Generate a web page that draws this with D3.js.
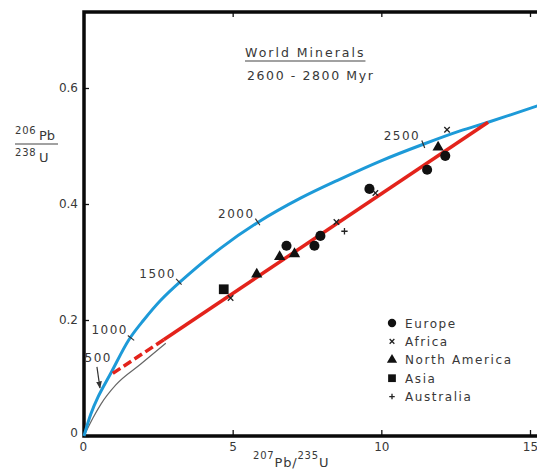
<!DOCTYPE html>
<html>
<head>
<meta charset="utf-8">
<script src="https://cdn.jsdelivr.net/npm/d3@7"></script>
<style>
	body { margin: 0; background: #fff; }
	text { font-family: "DejaVu Sans", sans-serif; fill: #383838; }
</style>
</head>
<body>
<div id="chart"></div>
<script>
// Concordia curve
const concordiaX = [0, 0.23, 0.47, 0.91, 1.51, 2.01, 2.58, 3.26, 4.60, 5.87, 7.28, 8.62, 9.97, 11.41, 12.65, 13.59, 15.3];
const concordiaY = [0, 0.038, 0.067, 0.109, 0.166, 0.200, 0.234, 0.267, 0.324, 0.369, 0.410, 0.443, 0.474, 0.503, 0.526, 0.541, 0.570];

// Age marks on the concordia (Myr)
const ageLabels = ["500", "1000", "1500", "2000", "2500"];
const ageX = [0.57, 1.58, 3.19, 5.84, 11.41];
const ageY = [0.076, 0.169, 0.266, 0.369, 0.503];

// Thin grey curve below the concordia
const grayX = [0, 0.30, 0.57, 1.07, 1.91, 2.75];
const grayY = [0, 0.031, 0.055, 0.088, 0.124, 0.160];

// Discordia (solid part and dashed extension)
const discordiaX = [13.59, 2.68];
const discordiaY = [0.541, 0.166];
const dashedX = [2.68, 0.97];
const dashedY = [0.166, 0.108];

// Mineral data by region
const regions = ["Europe", "Africa", "North America", "Asia", "Australia"];
const europeX = [6.81, 7.75, 7.95, 9.60, 11.54, 12.15];
const europeY = [0.328, 0.328, 0.345, 0.426, 0.459, 0.483];
const africaX = [4.93, 8.49, 9.80, 12.21];
const africaY = [0.238, 0.369, 0.419, 0.528];
const northAmericaX = [5.81, 6.58, 7.08, 11.91];
const northAmericaY = [0.279, 0.309, 0.314, 0.498];
const asiaX = [4.70];
const asiaY = [0.253];
const australiaX = [8.76];
const australiaY = [0.353];

const xTicks = [0, 5, 10, 15];
const yTicks = [0, 0.2, 0.4, 0.6];

const width = 537, height = 472;
const frameTop = 12;

const svg = d3.select("#chart").append("svg")
	.attr("width", width)
	.attr("height", height);

const x = d3.scaleLinear().domain([0, 15]).range([84, 530]);
const y = d3.scaleLinear().domain([0, 0.6]).range([436, 88]);

// custom stroke symbols
const symTimes = { draw(ctx, size) { const r = Math.sqrt(size) / 2; ctx.moveTo(-r, -r); ctx.lineTo(r, r); ctx.moveTo(r, -r); ctx.lineTo(-r, r); } };
const symPlus = { draw(ctx, size) { const r = Math.sqrt(size) / 2; ctx.moveTo(-r, 0); ctx.lineTo(r, 0); ctx.moveTo(0, -r); ctx.lineTo(0, r); } };

const symbolOf = {
	"Europe": { type: d3.symbolCircle, size: 80, filled: true, legendSize: 55 },
	"Africa": { type: symTimes, size: 30, filled: false, legendSize: 22 },
	"North America": { type: d3.symbolTriangle, size: 55, filled: true, legendSize: 45 },
	"Asia": { type: d3.symbolSquare, size: 95, filled: true, legendSize: 60 },
	"Australia": { type: symPlus, size: 40, filled: false, legendSize: 30 }
};

const seriesX = [europeX, africaX, northAmericaX, asiaX, australiaX];
const seriesY = [europeY, africaY, northAmericaY, asiaY, australiaY];

// ---- axes ----
const gx = svg.append("g").attr("transform", `translate(0,${y(0)})`)
	.call(d3.axisBottom(x).tickValues(xTicks).tickSize(-6).tickSizeOuter(0).tickPadding(6).tickFormat(d3.format("d")));
const gtop = svg.append("g").attr("transform", `translate(0,${frameTop})`)
	.call(d3.axisTop(x).tickValues(xTicks.slice(1)).tickSize(-5).tickSizeOuter(0).tickFormat(""));
const gy = svg.append("g").attr("transform", `translate(${x(0)},0)`)
	.call(d3.axisLeft(y).tickValues(yTicks).tickSize(-5).tickSizeOuter(0).tickPadding(6)
		.tickFormat(d => d === 0 ? "0" : d3.format(".1f")(d)));

[gx, gtop, gy].forEach(g => {
	g.select(".domain").remove();
	g.selectAll(".tick line").attr("stroke", "#111").attr("stroke-width", 1.3);
	g.selectAll(".tick text").attr("font-size", 12).attr("fill", "#444")
		.style("font-family", "DejaVu Sans, sans-serif");
});
gy.selectAll(".tick text").filter(d => d === 0).attr("dy", "0.05em");
gx.selectAll(".tick text").filter(d => d === 0).attr("dx", "-0.1em");

// frame (left, top, bottom)
svg.append("path")
	.attr("d", `M${width},${frameTop}H${x(0)}V${y(0)}H${width}`)
	.attr("fill", "none")
	.attr("stroke", "#0a0a0a")
	.attr("stroke-width", 3.5);

// ---- curves ----
const lineGen = d3.line().x(d => x(d[0])).y(d => y(d[1]));

svg.append("path")
	.datum(d3.zip(grayX, grayY))
	.attr("d", lineGen.curve(d3.curveMonotoneX))
	.attr("fill", "none")
	.attr("stroke", "#666")
	.attr("stroke-width", 1.2);

svg.append("path")
	.datum(d3.zip(concordiaX, concordiaY))
	.attr("d", lineGen.curve(d3.curveCatmullRom))
	.attr("fill", "none")
	.attr("stroke", "#1d9ad8")
	.attr("stroke-width", 3);

svg.append("path")
	.datum(d3.zip(dashedX, dashedY))
	.attr("d", lineGen.curve(d3.curveLinear))
	.attr("fill", "none")
	.attr("stroke", "#e3231b")
	.attr("stroke-width", 3.5)
	.attr("stroke-dasharray", "9,4");

svg.append("path")
	.datum(d3.zip(discordiaX, discordiaY))
	.attr("d", lineGen.curve(d3.curveLinear))
	.attr("fill", "none")
	.attr("stroke", "#e3231b")
	.attr("stroke-width", 3.5);

// ---- age ticks and labels ----
const cPix = d3.zip(concordiaX, concordiaY).map(d => [x(d[0]), y(d[1])]);
function tangentAt(px) {
	let i = cPix.findIndex(p => p[0] >= px);
	if (i < 1) i = 1;
	const dx = cPix[i][0] - cPix[i - 1][0], dy = cPix[i][1] - cPix[i - 1][1];
	const len = Math.hypot(dx, dy);
	return [dx / len, dy / len];
}

svg.append("defs").append("marker")
	.attr("id", "arrow")
	.attr("viewBox", "0 0 10 10")
	.attr("refX", 9).attr("refY", 5)
	.attr("markerWidth", 6).attr("markerHeight", 6)
	.attr("orient", "auto")
	.append("path").attr("d", "M0,1L10,5L0,9z").attr("fill", "#333");

const ages = svg.append("g");
ageLabels.forEach((lab, i) => {
	const px = x(ageX[i]), py = y(ageY[i]);
	const t = tangentAt(px), n = [-t[1], t[0]];
	if (i > 0) {
		ages.append("line")
			.attr("x1", px - n[0] * 4).attr("y1", py - n[1] * 4)
			.attr("x2", px + n[0] * 4).attr("y2", py + n[1] * 4)
			.attr("stroke", "#333").attr("stroke-width", 1.2);
		ages.append("text")
			.attr("x", px - 3).attr("y", py - 4)
			.attr("text-anchor", "end")
			.attr("font-size", 12)
			.attr("letter-spacing", 1.5)
			.text(lab);
	} else {
		ages.append("text")
			.attr("x", px + 11).attr("y", py - 30)
			.attr("text-anchor", "end")
			.attr("font-size", 12)
			.attr("letter-spacing", 1.5)
			.text(lab);
		ages.append("line")
			.attr("x1", px - 4).attr("y1", py - 25)
			.attr("x2", px - 1).attr("y2", py - 4)
			.attr("stroke", "#333").attr("stroke-width", 1.2)
			.attr("marker-end", "url(#arrow)");
	}
});

// ---- data points ----
function symbolPath(name, size) {
	return d3.symbol().type(symbolOf[name].type).size(size)();
}
function styleSym(sel, name) {
	if (symbolOf[name].filled) sel.attr("fill", "#111").attr("stroke", "none");
	else sel.attr("fill", "none").attr("stroke", "#222").attr("stroke-width", 1.3);
}

regions.forEach((name, k) => {
	const pts = d3.zip(seriesX[k], seriesY[k]);
	svg.append("g").selectAll("path")
		.data(pts)
		.enter()
		.append("path")
		.attr("d", symbolPath(name, symbolOf[name].size))
		.attr("transform", d => `translate(${x(d[0])},${y(d[1])})`)
		.call(styleSym, name);
});

// ---- legend ----
const legend = svg.append("g").attr("transform", "translate(392,323)");
const legendEntry = legend.selectAll("g")
	.data(regions)
	.enter()
	.append("g")
	.attr("transform", (d, i) => `translate(0,${i * 18.4})`);
legendEntry.append("path")
	.attr("d", d => symbolPath(d, symbolOf[d].legendSize))
	.each(function (d) { d3.select(this).call(styleSym, d); });
legendEntry.append("text")
	.attr("x", 13)
	.attr("y", 4.5)
	.attr("font-size", 12)
	.attr("letter-spacing", 1.6)
	.text(d => d);

// ---- title ----
const title = svg.append("text")
	.attr("x", 245).attr("y", 57)
	.attr("font-size", 12.5)
	.attr("letter-spacing", 2)
	.text("World Minerals");
const tw = title.node().getComputedTextLength();
svg.append("line")
	.attr("x1", 245).attr("x2", 245 + tw)
	.attr("y1", 61).attr("y2", 61)
	.attr("stroke", "#444").attr("stroke-width", 1.2);
svg.append("text")
	.attr("x", 247).attr("y", 80)
	.attr("font-size", 12.5)
	.attr("letter-spacing", 1.6)
	.text("2600 - 2800 Myr");

// ---- axis titles ----
const yl = svg.append("g");
yl.append("text").attr("x", 15).attr("y", 134).attr("font-size", 10).attr("letter-spacing", 0.8).text("206");
yl.append("text").attr("x", 39).attr("y", 140).attr("font-size", 13).text("Pb");
yl.append("line").attr("x1", 15).attr("x2", 58).attr("y1", 144).attr("y2", 144)
	.attr("stroke", "#444").attr("stroke-width", 1.2);
yl.append("text").attr("x", 15).attr("y", 156).attr("font-size", 10).attr("letter-spacing", 0.8).text("238");
yl.append("text").attr("x", 39).attr("y", 162).attr("font-size", 13).text("U");

const xl = svg.append("text").attr("x", 253).attr("y", 467).attr("letter-spacing", 0.8);
xl.append("tspan").attr("font-size", 10).attr("dy", -8).text("207");
xl.append("tspan").attr("font-size", 13).attr("dy", 8).text("Pb/");
xl.append("tspan").attr("font-size", 10).attr("dy", -8).text("235");
xl.append("tspan").attr("font-size", 13).attr("dy", 8).text("U");
</script>
</body>
</html>
